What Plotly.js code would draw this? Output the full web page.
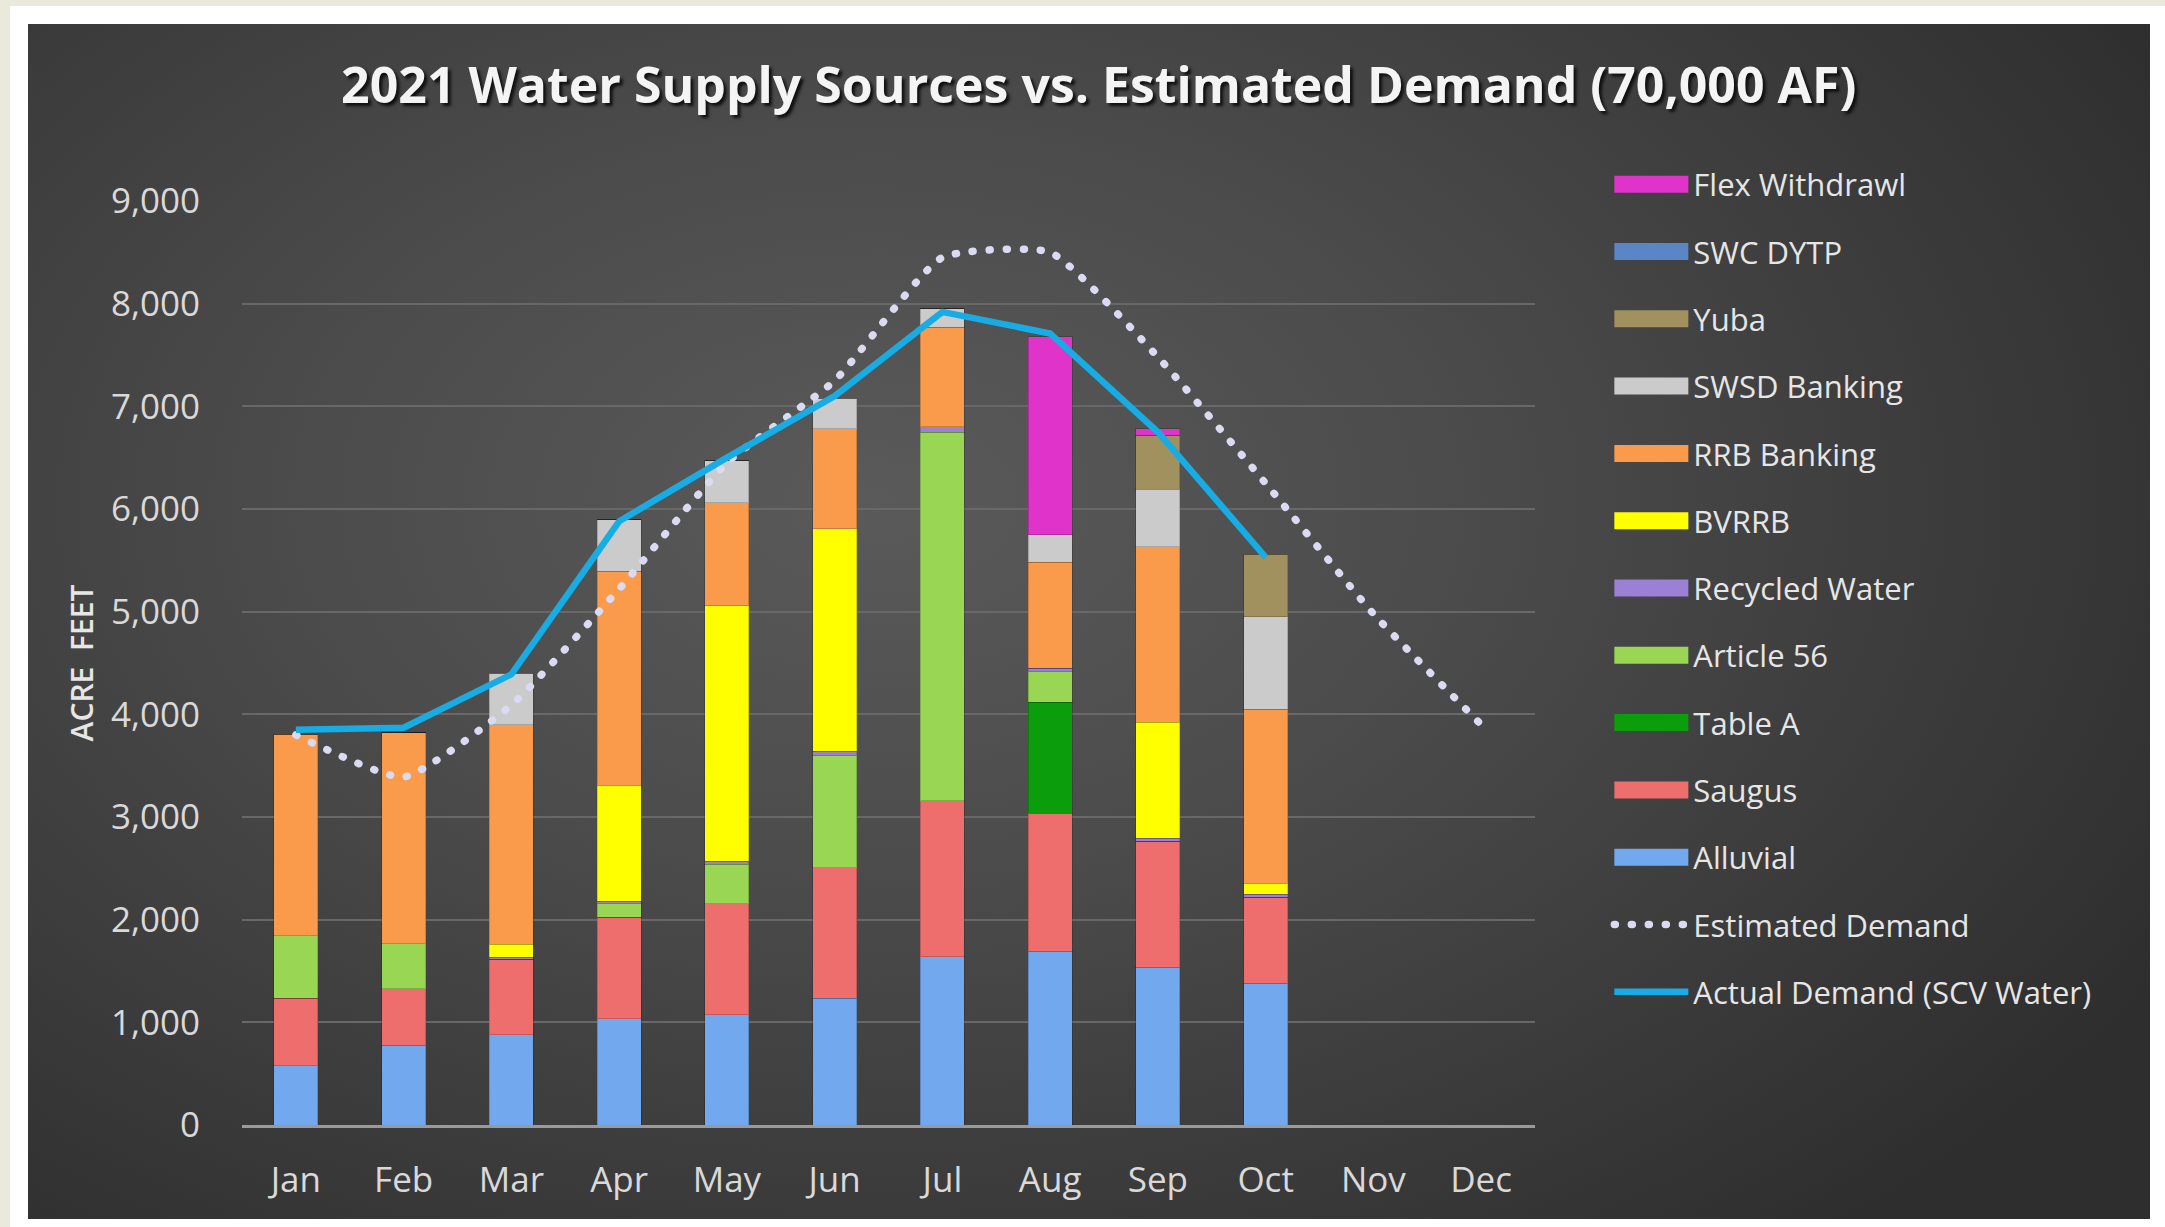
<!DOCTYPE html>
<html><head><meta charset="utf-8">
<script src="https://cdn.plot.ly/plotly-3.0.1.min.js"></script>
<style>
html,body{margin:0;padding:0;background:#fff;width:2165px;height:1227px;overflow:hidden;}
#frameTop{position:absolute;left:0;top:0;width:2165px;height:6px;background:#ebe8dc;}
#frameLeft{position:absolute;left:0;top:0;width:10px;height:1227px;background:#ebe8dc;}
#panel{position:absolute;left:28px;top:24px;width:2122px;height:1195px;
 background: radial-gradient(ellipse 70% 80% at 40% 40%, #5a5a5a 0%, #4b4b4b 40%, #2e2e2e 100%);}
#chart{position:absolute;left:0;top:0;width:2165px;height:1227px;}
</style></head>
<body>
<div id="frameTop"></div><div id="frameLeft"></div><div id="panel"></div>
<div id="chart"></div>
<script>
const months = ['Jan','Feb','Mar','Apr','May','Jun','Jul','Aug','Sep','Oct','Nov','Dec'];
const alluvial  = [575, 775, 880, 1035, 1075, 1235, 1640, 1690, 1535, 1380, null, null];
const saugus    = [660, 550, 735, 990, 1080, 1270, 1520, 1345, 1230, 840, null, null];
const tableA    = [0, 0, 0, 0, 0, 0, 0, 1085, 0, 0, null, null];
const article56 = [610, 440, 0, 135, 385, 1095, 3590, 300, 0, 0, null, null];
const recycled  = [0, 0, 20, 20, 30, 40, 50, 30, 30, 30, null, null];
const bvrrb     = [0, 0, 125, 1130, 2490, 2170, 0, 0, 1130, 105, null, null];
const rrb       = [1960, 2055, 2140, 2085, 1000, 970, 970, 1030, 1705, 1695, null, null];
const swsd      = [0, 0, 500, 500, 410, 300, 180, 270, 560, 900, null, null];
const yuba      = [0, 0, 0, 0, 0, 0, 0, 0, 530, 610, null, null];
const swcDytp   = [0, 0, 0, 0, 0, 0, 0, 0, 0, 0, null, null];
const flex      = [0, 0, 0, 0, 0, 0, 0, 1930, 60, 0, null, null];
const estimatedDemand = [3800, 3390, 4090, 5220, 6450, 7250, 8450, 8500, 7480, 6250, 4980, 3900];
const actualDemand    = [3850, 3870, 4390, 5880, 6500, 7100, 7920, 7710, 6750, 5530, null, null];
const yTicks = [0,1000,2000,3000,4000,5000,6000,7000,8000,9000];
const yTickText = ['0','1,000','2,000','3,000','4,000','5,000','6,000','7,000','8,000','9,000'];

const barSeries = [
  ['Alluvial', alluvial, '#72a9ee'],
  ['Saugus', saugus, '#ee6d6d'],
  ['Table A', tableA, '#0b9d0b'],
  ['Article 56', article56, '#98d654'],
  ['Recycled Water', recycled, '#9b80d6'],
  ['BVRRB', bvrrb, '#ffff00'],
  ['RRB Banking', rrb, '#f99b4a'],
  ['SWSD Banking', swsd, '#cbcbcb'],
  ['Yuba', yuba, '#a0915e'],
  ['SWC DYTP', swcDytp, '#5a86c6'],
  ['Flex Withdrawl', flex, '#df33c9']
];

const FONT = 'Open Sans, sans-serif';
const traces = [];
barSeries.forEach(s => {
  traces.push({type:'bar', name:s[0], x:months, y:s[1],
    marker:{color:s[2], line:{color:'rgba(0,0,0,0.18)', width:1}},
    showlegend:false, hoverinfo:'name+y'});
});
// legend entries (bar swatches), reversed order like the reference
const legendSeries = barSeries.slice().reverse();
const swatchNames = legendSeries.map(s => s[0]);
legendSeries.forEach((s, i) => {
  traces.push({type:'scatter', mode:'lines', name:s[0], x:[null], y:[null],
    line:{color:s[2], width:17}, legendgroup:'g'+i, legendrank:i+1, hoverinfo:'skip'});
});
traces.push({type:'scatter', mode:'lines', name:'Estimated Demand', x:months, y:estimatedDemand,
  line:{color:'#dadaf3', width:7.5, dash:'1px,16px', shape:'spline', smoothing:0.5},
  legendgroup:'est', legendrank:12, uid:'est'});
traces.push({type:'scatter', mode:'lines', name:'Actual Demand (SCV Water)', x:months, y:actualDemand,
  line:{color:'#17ace4', width:6.5}, legendgroup:'act', legendrank:13, connectgaps:false});

const layout = {
  width:2165, height:1227,
  paper_bgcolor:'rgba(0,0,0,0)', plot_bgcolor:'rgba(0,0,0,0)',
  margin:{l:242, r:630, t:201, b:102, pad:0},
  barmode:'stack', bargap:0.59,
  showlegend:true,
  title:{text:'2021 Water Supply Sources vs. Estimated Demand (70,000 AF)',
    font:{family:FONT, size:50, color:'#f4f4f4', weight:700, shadow:'3px 3px 3px #111'},
    x:0.5075, xref:'container', xanchor:'center', y:0.93, yref:'container', yanchor:'middle'},
  xaxis:{type:'category', tickfont:{family:FONT, size:35, color:'#d9d9d9'},
    showgrid:false, showline:true, linecolor:'#9a9a9a', linewidth:3,
    ticks:'outside', ticklen:22, tickcolor:'rgba(0,0,0,0)', zeroline:false, fixedrange:true},
  yaxis:{range:[0,9000], tickvals:yTicks, ticktext:yTickText,
    tickfont:{family:FONT, size:35, color:'#d9d9d9'},
    showgrid:true, gridcolor:'#686868', gridwidth:1.5, zeroline:false,
    ticks:'outside', ticklen:34, tickcolor:'rgba(0,0,0,0)', fixedrange:true,
    title:{text:'ACRE  FEET', font:{family:FONT, size:30, color:'#e6e6e6', weight:600}, standoff:8}},
  legend:{x:1.0575, xanchor:'left', y:1.047, yanchor:'top', traceorder:'grouped',
    tracegroupgap:24, itemwidth:74, maxheight:1150, bgcolor:'rgba(0,0,0,0)',
    font:{family:FONT, size:31, color:'#e6e6e6'}, itemclick:false, itemdoubleclick:false}
};

Plotly.newPlot('chart', traces, layout, {displayModeBar:false, responsive:false}).then(() => {
  document.querySelectorAll('path.js-line').forEach(p => {
    const da = p.style.strokeDasharray || '';
    if (da.indexOf('16') >= 0) p.style.strokeLinecap = 'round';
  });
  document.querySelectorAll('.legend .traces').forEach(g => {
    const t = g.querySelector('.legendtext');
    if (t && swatchNames.indexOf(t.textContent) >= 0) {
      g.querySelectorAll('path.js-line').forEach(p => { p.style.strokeWidth = '17px'; });
    }
  });
});
</script>
</body></html>
